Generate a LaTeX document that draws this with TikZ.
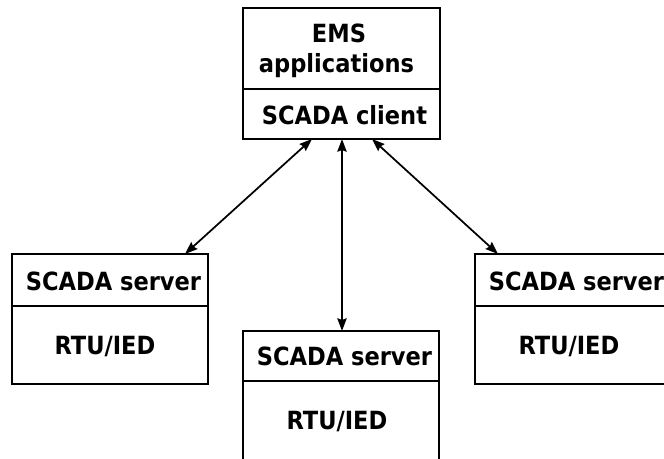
\documentclass[tikz,border=0pt]{standalone}
\usepackage{fontspec}
\setmainfont{DejaVu Sans Condensed}
\usetikzlibrary{arrows.meta,calc}
\tikzset{
  box/.style={draw, line width=1.5pt, inner sep=0pt, outer sep=0pt,
    minimum width=147pt, minimum height=97.5pt, anchor=north west},
  divider/.style={line width=1.5pt},
  lbl/.style={anchor=base, inner sep=0pt, font=\fontsize{18.8}{22.5}\selectfont\bfseries},
  conn/.style={line width=1.3pt, arrows={Stealth[length=9.5pt,width=7pt,inset=1.2pt]-Stealth[length=9.5pt,width=7pt,inset=1.2pt]}}
}
\begin{document}
\begin{tikzpicture}[x=0.75pt, y=-0.75pt]
\useasboundingbox (0,0) rectangle (664,458);
\clip (0,0) rectangle (664,458);

% client box with EMS applications on top
\node[box, minimum width=147.75pt, minimum height=98.25pt] (ems) at (243,8) {};
\draw[divider] (243,89) -- (440,89);
\node[lbl] (emsa) at (339,42) {EMS};
\node[lbl] (emsb) at (336.5,72) {applications};
\node[lbl] (client) at (344.5,124) {SCADA client};

% left server
\node[box] (lsrv) at (12,254) {};
\draw[divider] (12,306) -- (208,306);
\node[lbl] (lsrvt) at (113.5,290) {SCADA server};
\node[lbl] (lrtu) at (105,354) {RTU/IED};

% middle server
\node[box] (msrv) at (243,331) {};
\draw[divider] (243,381) -- (439,381);
\node[lbl] (msrvt) at (344.5,365) {SCADA server};
\node[lbl] (mrtu) at (337,429) {RTU/IED};

% right server
\node[box] (rsrv) at (475,254) {};
\draw[divider] (475,306) -- (671,306);
\node[lbl] (rsrvt) at (576.5,290) {SCADA server};
\node[lbl] (rrtu) at (569,354) {RTU/IED};

% links between client and servers
\draw[conn] ($(ems.south)+(-29.5,0)$) -- ($(lsrv.north west)+(173,0)$);
\draw[conn] ($(ems.south)+(0.5,0)$) -- ($(msrv.north west)+(99,0)$);
\draw[conn] ($(ems.south)+(30.5,0)$) -- ($(rsrv.north west)+(23,0)$);
\end{tikzpicture}
\end{document}
